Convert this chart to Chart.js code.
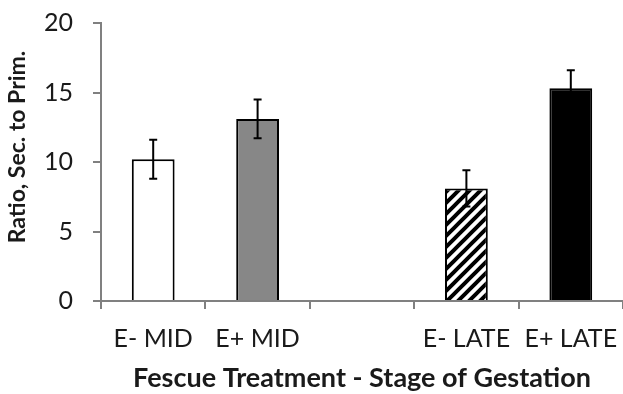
<!DOCTYPE html>
<html>
<head>
<meta charset="utf-8">
<script src="https://cdn.jsdelivr.net/npm/chart.js@4.4.1/dist/chart.umd.min.js"></script>
<style>
  html, body { margin: 0; padding: 0; background: #ffffff; }
  #wrap { width: 623px; height: 394px; position: relative; }
</style>
</head>
<body>
<div id="wrap"><canvas id="c" width="623" height="394"></canvas></div>
<script>
// Secondary-to-primary follicle ratio by fescue treatment and stage of gestation
const categories = ['E- MID', 'E+ MID', '', 'E- LATE', 'E+ LATE'];
const ratioMeans = [10.2, 13.1, null, 8.1, 15.3];
const ratioSE = [1.4, 1.4, null, 1.3, 1.3];
const yTicks = [0, 5, 10, 15, 20];
const xTitle = 'Fescue Treatment - Stage of Gestation';
const yTitle = 'Ratio, Sec. to Prim.';

const FONT = 'Lato, "Open Sans", sans-serif';

// diagonal hatch fill for the E- LATE bar
function makeHatch() {
  const n = 11;
  const p = document.createElement('canvas');
  p.width = n; p.height = n;
  const g = p.getContext('2d');
  g.fillStyle = '#ffffff';
  g.fillRect(0, 0, n, n);
  g.strokeStyle = '#000000';
  g.lineWidth = 4;
  g.beginPath();
  g.moveTo(-n, n); g.lineTo(n, -n);
  g.moveTo(0, 2 * n); g.lineTo(2 * n, 0);
  g.moveTo(-n, 2 * n); g.lineTo(2 * n, -n);
  g.stroke();
  return g.createPattern(p, 'repeat');
}

const ctx = document.getElementById('c').getContext('2d');
const fills = ['#ffffff', '#878787', '#ffffff', makeHatch(), '#000000'];

// error bars drawn over the bars
const errorBars = {
  id: 'errorBars',
  afterDatasetsDraw(chart) {
    const meta = chart.getDatasetMeta(0);
    const ys = chart.scales.y;
    const c = chart.ctx;
    c.save();
    c.strokeStyle = '#000000';
    c.lineWidth = 2;
    meta.data.forEach((bar, i) => {
      const v = ratioMeans[i], e = ratioSE[i];
      if (v == null || e == null) return;
      const x = bar.x;
      const yHi = ys.getPixelForValue(v + e);
      const yLo = ys.getPixelForValue(v - e);
      c.beginPath();
      c.moveTo(x, yHi); c.lineTo(x, yLo);
      c.moveTo(x - 4, yHi); c.lineTo(x + 4, yHi);
      c.moveTo(x - 4, yLo); c.lineTo(x + 4, yLo);
      c.stroke();
    });
    c.restore();
  }
};

// rotated y-axis title
const yAxisTitle = {
  id: 'yAxisTitle',
  afterDraw(chart) {
    const c = chart.ctx;
    c.save();
    c.translate(18, 147);
    c.rotate(-Math.PI / 2);
    c.font = 'bold 23px ' + FONT;
    c.fillStyle = '#1a1a1a';
    c.textAlign = 'center';
    c.textBaseline = 'middle';
    c.fillText(yTitle, 0, 0);
    c.restore();
  }
};

new Chart(ctx, {
  type: 'bar',
  data: {
    labels: categories,
    datasets: [{
      data: ratioMeans,
      backgroundColor: fills,
      borderColor: '#000000',
      borderWidth: 2,
      borderSkipped: 'bottom',
      categoryPercentage: 1,
      barPercentage: 0.41
    }]
  },
  options: {
    responsive: false,
    animation: false,
    devicePixelRatio: 1,
    layout: { padding: { top: 23, right: 0, bottom: 0, left: 0 } },
    plugins: { legend: { display: false }, tooltip: { enabled: false } },
    scales: {
      x: {
        offset: true,
        grid: { display: true, offset: true, drawOnChartArea: false, drawTicks: true, tickLength: 8, color: '#808080', lineWidth: 2 },
        border: { display: true, color: '#808080', width: 2 },
        ticks: { color: '#1a1a1a', font: { family: FONT, size: 25 }, padding: 15, maxRotation: 0, autoSkip: false },
        title: { display: true, text: xTitle, color: '#1a1a1a', font: { family: FONT, size: 27, weight: 'bold' }, padding: { top: 0, bottom: 0 } },
        afterFit(s) { s.height = 93; s.paddingLeft = 0; s.paddingRight = 0; }
      },
      y: {
        min: 0, max: 20,
        afterBuildTicks(s) { s.ticks = yTicks.map(v => ({ value: v })); },
        grid: { display: true, drawOnChartArea: false, drawTicks: true, tickLength: 8, color: '#808080', lineWidth: 2 },
        border: { display: true, color: '#808080', width: 2 },
        ticks: { color: '#1a1a1a', font: { family: FONT, size: 25 }, padding: 20 },
        afterFit(s) { s.width = 101; s.paddingTop = 0; s.paddingBottom = 0; }
      }
    }
  },
  plugins: [errorBars, yAxisTitle]
});
</script>
</body>
</html>
